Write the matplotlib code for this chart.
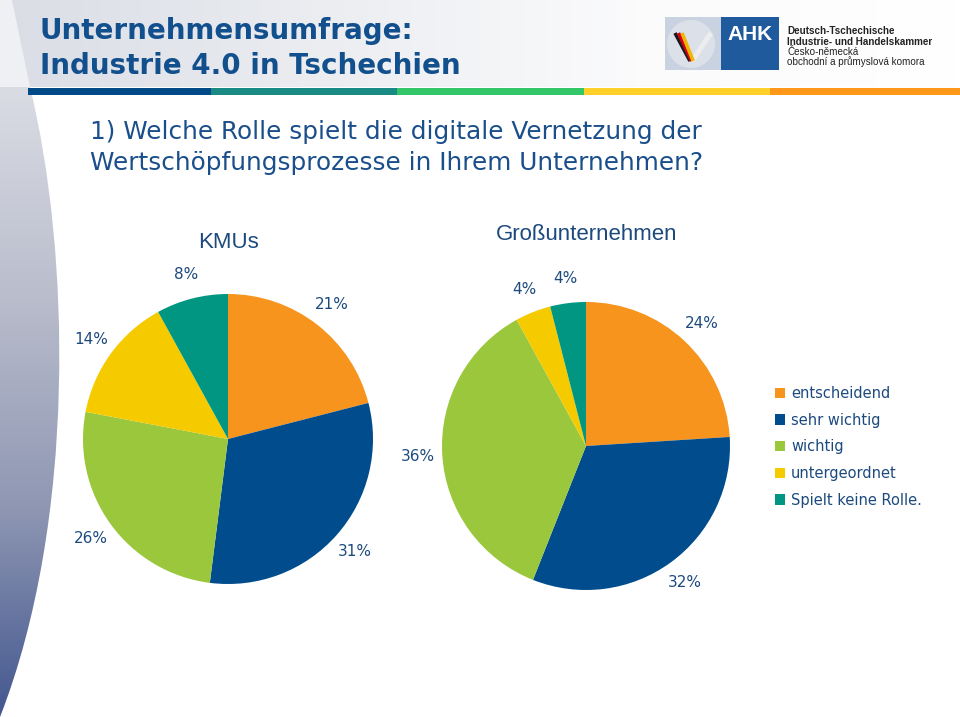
import numpy as np
import matplotlib.pyplot as plt
from matplotlib.path import Path
from matplotlib.patches import PathPatch, Rectangle, Circle, Polygon
from matplotlib.colors import LinearSegmentedColormap

# Daten
kategorien = ['entscheidend', 'sehr wichtig', 'wichtig', 'untergeordnet', 'Spielt keine Rolle.']
kmu_werte = [21, 31, 26, 14, 8]
gross_werte = [24, 32, 36, 4, 4]
farben = ['#F7941D', '#004C8C', '#9BC73C', '#F5CB00', '#009681']

titel_zeilen = ['Unternehmensumfrage:', 'Industrie 4.0 in Tschechien']
frage_zeilen = ['1) Welche Rolle spielt die digitale Vernetzung der',
                'Wertschöpfungsprozesse in Ihrem Unternehmen?']
logo_zeilen = ['Deutsch-Tschechische', 'Industrie- und Handelskammer',
               'Česko-německá', 'obchodní a průmyslová komora']

blau = '#124F8D'
label_blau = '#1C4A7E'

W, H = 960, 717
fig = plt.figure(figsize=(9.6, 7.17), dpi=100)

# Hintergrund-Achse in Pixelkoordinaten
bg = fig.add_axes([0, 0, 1, 1])
bg.axis('off')

# Kopfbereich mit Verlauf
grad = np.linspace(0, 1, 256).reshape(1, -1)
cm_kopf = LinearSegmentedColormap.from_list('kopf', ['#DADDE5', '#EBEDF1', '#FBFBFC', '#FFFFFF'])
bg.imshow(grad, cmap=cm_kopf, extent=(0, W, 87, 0), aspect='auto', zorder=0)
bg.add_patch(Polygon([(0, 0), (12, 0), (30, 87), (0, 87)], closed=True, color='#EEF0F4', lw=0, zorder=1))

# linke Verlaufsform
vgrad = np.linspace(0, 1, 256).reshape(-1, 1)
cm_seite = LinearSegmentedColormap.from_list('seite', ['#DADCE4', '#B9BDCC', '#8F97B3', '#43578F'])
im = bg.imshow(vgrad, cmap=cm_seite, extent=(0, 90, H, 87), aspect='auto', zorder=1)
pfad = Path([(0, 87), (30, 87), (70, 250), (77, 520), (0, 717), (0, 87)],
            [Path.MOVETO, Path.LINETO, Path.CURVE4, Path.CURVE4, Path.CURVE4, Path.CLOSEPOLY])
form = PathPatch(pfad, transform=bg.transData, fc='none', lw=0)
bg.add_patch(form)
im.set_clip_path(form)

# Farbbalken unter dem Kopf
balken_x = [28, 211, 397, 584, 770, 960]
balken_farben = ['#004B87', '#1A8A85', '#33C76A', '#FFD02A', '#FF9719']
for i in range(5):
    bg.add_patch(Rectangle((balken_x[i], 88), balken_x[i + 1] - balken_x[i], 6.5,
                           color=balken_farben[i], lw=0, zorder=2))

# Logo
bg.add_patch(Rectangle((665, 17), 114, 53, color='#C9D2E0', lw=0, zorder=2))
bg.add_patch(Rectangle((721, 17), 58, 53, color='#1F5B9C', lw=0, zorder=2))
bg.add_patch(Circle((691, 44), 24, color='#DCE1E9', lw=0, zorder=3))
bg.plot([692, 711], [61, 33], color='#EDEDF0', lw=3.5, solid_capstyle='butt', zorder=4)
for dx, c in [(0, '#1A1A1A'), (3.5, '#D0021B'), (7, '#F2B600')]:
    bg.plot([675 + dx, 690 + dx * 0.45], [33, 61], color=c, lw=2.6, solid_capstyle='butt', zorder=4)
bg.text(750, 35, 'AHK', color='white', fontsize=15, fontweight='bold',
        family='Liberation Sans', ha='center', va='center', zorder=5)
for i, (zeile, y) in enumerate(zip(logo_zeilen, [31, 42, 52, 62])):
    bg.text(787, y, zeile, fontsize=7.1, family='Liberation Sans', color='#222222',
            fontweight='bold' if i < 2 else 'normal', ha='left', va='center', zorder=5)

# Titel und Frage
for zeile, y in zip(titel_zeilen, [31, 66]):
    bg.text(40, y, zeile, fontsize=20, fontweight='bold', color=blau, ha='left', va='center')
for zeile, y in zip(frage_zeilen, [132, 163]):
    bg.text(90, y, zeile, fontsize=17.8, color='#1A4F8B', ha='left', va='center')

bg.text(228, 242, 'KMUs', fontsize=16, family='Liberation Sans', color=label_blau, ha='center', va='center')
bg.text(587, 234, 'Großunternehmen', fontsize=16, family='Liberation Sans', color=label_blau,
        ha='center', va='center')

bg.set_xlim(0, W)
bg.set_ylim(H, 0)


def torte(ax, werte):
    keile, _, texte = ax.pie(werte, colors=farben, startangle=90, counterclock=False,
                             autopct=lambda p: '{:.0f}%'.format(p), pctdistance=1.17,
                             wedgeprops=dict(linewidth=0),
                             textprops=dict(color=label_blau, fontsize=11, family='DejaVu Sans'))
    ax.set_xlim(-1.25, 1.25)
    ax.set_ylim(-1.25, 1.25)
    ax.set_aspect('equal')
    return keile


ax1 = fig.add_axes([(228 - 181.25) / W, (H - 439 - 181.25) / H, 362.5 / W, 362.5 / H])
keile = torte(ax1, kmu_werte)
ax2 = fig.add_axes([(586 - 180) / W, (H - 446 - 180) / H, 360 / W, 360 / H])
torte(ax2, gross_werte)

fig.legend(keile, kategorien, loc='upper left', bbox_to_anchor=(775 / W, 1 - 386 / H),
           frameon=False, fontsize=10.5, handlelength=0.7, handleheight=0.7, handletextpad=0.4,
           labelspacing=0.8, borderpad=0, borderaxespad=0, labelcolor=label_blau)

fig.savefig('out.png', dpi=100)
